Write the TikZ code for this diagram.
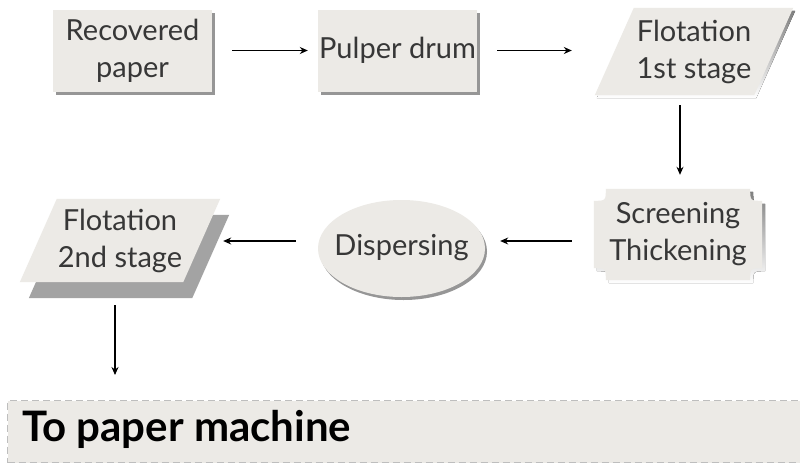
\documentclass[tikz,border=0pt]{standalone}
\usepackage{fontspec}
\setmainfont{Lato}
\usetikzlibrary{shapes.geometric,arrows.meta,calc,backgrounds}

\definecolor{boxfill}{RGB}{236,234,230}
\definecolor{shade}{RGB}{150,150,150}
\definecolor{deepshade}{RGB}{163,163,163}
\definecolor{ink}{RGB}{55,55,55}
\definecolor{rulegray}{RGB}{190,190,190}

% outline of a plaque: a rectangle whose corners are cut by concave quarter arcs
\newcommand\plaqueoutline[2]{%
  ($(#1.north west)+(#2,0)$) -- ($(#1.north east)+(-#2,0)$)
  .. controls ($(#1.north east)+(-#2,#2)$) .. ($(#1.north east)+(0,#2)$)
  -- ($(#1.south east)+(0,-#2)$)
  .. controls ($(#1.south east)+(-#2,-#2)$) .. ($(#1.south east)+(-#2,0)$)
  -- ($(#1.south west)+(#2,0)$)
  .. controls ($(#1.south west)+(#2,-#2)$) .. ($(#1.south west)+(0,-#2)$)
  -- ($(#1.north west)+(0,#2)$)
  .. controls ($(#1.north west)+(#2,#2)$) .. cycle}

% outline of a right-leaning parallelogram filling a node's box
\newcommand\slantoutline[2]{%
  ($(#1.north west)+(#2,0)$) -- (#1.north east)
  -- ($(#1.south east)+(-#2,0)$) -- (#1.south west) -- cycle}

\begin{document}
\begin{tikzpicture}[x=1pt,y=-1pt,
  labeltext/.style={font=\fontsize{29}{37}\selectfont, text=ink, align=center, inner sep=0pt},
  stepbox/.style={labeltext, rectangle, fill=boxfill,
    minimum width=159pt, minimum height=82pt,
    preaction={fill=shade, transform canvas={xshift=3pt,yshift=-3pt}}},
  frame/.style={labeltext, rectangle},
  arr/.style={-{Stealth[length=8pt,width=7pt]}, line width=1.1pt, black},
]
\useasboundingbox (0,0) rectangle (800,463);

% process steps
\node[stepbox] (rec) at (132.5,50.5) {Recovered\\paper};
\node[stepbox] (pulp) at (397.5,50.5) {Pulper drum};
\node[frame, minimum width=198pt, minimum height=87pt]
  (flot1) at (694,51.5) {Flotation\\1st stage};
\node[frame, minimum width=168pt, minimum height=91pt]
  (scr) at (678,234.5) {Screening\\Thickening};
\node[ellipse, fill=boxfill, minimum width=167pt, minimum height=97pt, inner sep=0pt,
  preaction={fill=shade, transform canvas={xshift=2pt,yshift=-3pt}}]
  (disp) at (401.5,248.5) {};
\node[labeltext] (disptext) at ($(disp.center)+(0,-1)$) {Dispersing};
\node[frame, minimum width=200pt, minimum height=83pt]
  (flot2) at (120,240.5) {Flotation\\2nd stage};

% shaped backgrounds of the framed steps
\begin{scope}[on background layer]
  \fill[white] (0,0) rectangle (800,463);
  \fill[shade, transform canvas={xshift=2pt,yshift=-3pt}] \slantoutline{flot1}{39};
  \fill[boxfill] \slantoutline{flot1}{39};
  \fill[shade, transform canvas={xshift=3pt,yshift=-3pt}] \plaqueoutline{scr}{12};
  \fill[boxfill] \plaqueoutline{scr}{12};
  \fill[deepshade, transform canvas={xshift=9pt,yshift=-16pt}] \slantoutline{flot2}{37};
  \fill[boxfill] \slantoutline{flot2}{37};
\end{scope}

% destination bar
\node[draw=rulegray, line width=1pt, dash pattern=on 7pt off 4pt, fill=boxfill,
  anchor=north west, minimum width=815pt, minimum height=62pt, inner sep=0pt]
  (bar) at (7,400) {};
\node[anchor=west, inner sep=0pt, font=\fontsize{42}{46}\selectfont\bfseries]
  (dest) at (22,429) {To paper machine};

% connectors
\draw[arr] ($(rec.east)+(20,0)$) -- ($(pulp.west)+(-10,0)$);
\draw[arr] ($(pulp.east)+(20,0)$) -- ($(pulp.east -| flot1.west)+(-23,0)$);
\draw[arr] ($(flot1.south -| scr.north)+(2,10)$) -- ($(scr.north)+(2,-14)$);
\draw[arr] ($(scr.west)+(-22,6.5)$) -- ($(disp.east |- scr.west)+(15,6.5)$);
\draw[arr] ($(disp.west)+(-22,-7.5)$) -- ($(flot2.east |- disp.west)+(3,-7.5)$);
\draw[arr] ($(flot2.south)+(-5,23)$) -- ($(flot2.south |- bar.north)+(-5,-25)$);
\end{tikzpicture}
\end{document}
